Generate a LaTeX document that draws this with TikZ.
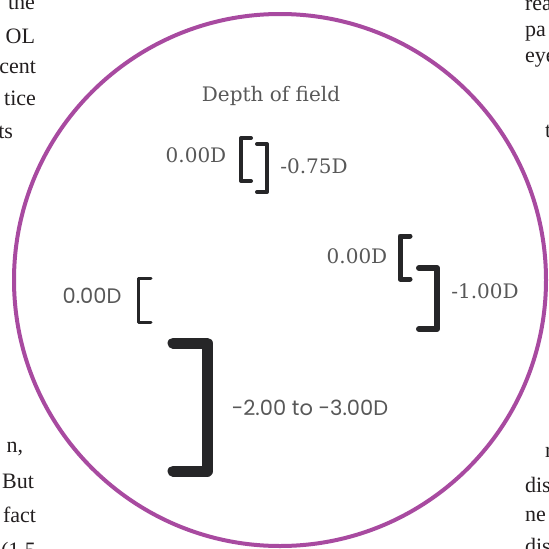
\documentclass[tikz,border=0pt]{standalone}
\usepackage{fontspec}
\setmainfont{Liberation Serif}
\newfontfamily\slabfont{DejaVu Serif}
\newfontfamily\geofont{Poppins}
\definecolor{ringpurple}{RGB}{168,74,160}
\definecolor{labelgray}{RGB}{88,88,88}
\definecolor{bracketink}{RGB}{38,38,40}
\definecolor{pagetext}{RGB}{35,31,32}

\begin{document}
\begin{tikzpicture}[
            x=1pt, y=-1pt,
            every node/.style={inner sep=0pt, outer sep=0pt},
            page/.style={font=\fontsize{22}{26}\selectfont, text=pagetext},
            slab/.style={font=\slabfont\fontsize{20}{24}\selectfont, text=labelgray},
            geo/.style={font=\geofont\fontsize{21}{25}\selectfont, text=labelgray},
            bracket/.style={draw=bracketink, line width=#1, line cap=round, line join=round},
            bracket/.default=4
        ]

\useasboundingbox (0,0) rectangle (549,549);
\clip (0,0) rectangle (549,549);

% page text behind the lens
            \node[page, anchor=base east] (l1) at (35,9) {the};
            \node[page, anchor=base east] (l2) at (35,43) {OL};
            \node[page, anchor=base east] (l3) at (36,73) {cent};
            \node[page, anchor=base east] (l4) at (36,105) {tice};
            \node[page, anchor=base east] (l5) at (13,138) {ts};
            \node[page, anchor=base east] (l6) at (23,452) {n,};
            \node[page, anchor=base east] (l7) at (34,488) {But};
            \node[page, anchor=base east] (l8) at (36,522) {fact};
            \node[page, anchor=base east] (l9) at (36,557) {(1.5};
            \node[page, anchor=base west] (r1) at (525,10) {rea};
            \node[page, anchor=base west] (r2) at (525,36) {pa};
            \node[page, anchor=base west] (r3) at (525,62) {eye};
            \node[page, anchor=base west] (r4) at (545,137) {t};
            \node[page, anchor=base west] (r5) at (545,457) {r};
            \node[page, anchor=base west] (r6) at (525,492) {dis};
            \node[page, anchor=base west] (r7) at (525,521) {ne};
            \node[page, anchor=base west] (r8) at (525,553) {dis};

% lens
            \draw[ringpurple, line width=4] (280,280) circle (266);

% title
            \node[slab, anchor=base] (title) at (271,101) {Depth of field};

% brackets
            \draw[bracket=4] (251,138) -- (241,138) -- (241,181) -- (251,181);
            \draw[bracket=4] (257,144) -- (267,144) -- (267,192) -- (257,192);
            \draw[bracket=5] (410,236) -- (400,236) -- (400,279) -- (410,279);
            \draw[bracket=6] (419,268) -- (437,268) -- (437,329) -- (419,329);
            \draw[bracket=3] (151,278) -- (138,278) -- (138,322) -- (151,322);
            \draw[bracket=11] (173,343) -- (207,343) -- (207,471) -- (173,471);

% range labels
            \node[slab, anchor=base] (near1) at (196,162) {0.00D};
            \node[slab, anchor=base] (far1) at (314,173) {-0.75D};
            \node[slab, anchor=base] (near2) at (357,263) {0.00D};
            \node[slab, anchor=base] (far2) at (485,298) {-1.00D};
            \node[geo, anchor=base] (near3) at (92,303) {0.00D};
            \node[geo, anchor=base] (far3) at (310,415) {-2.00 to -3.00D};

        \end{tikzpicture}
\end{document}
